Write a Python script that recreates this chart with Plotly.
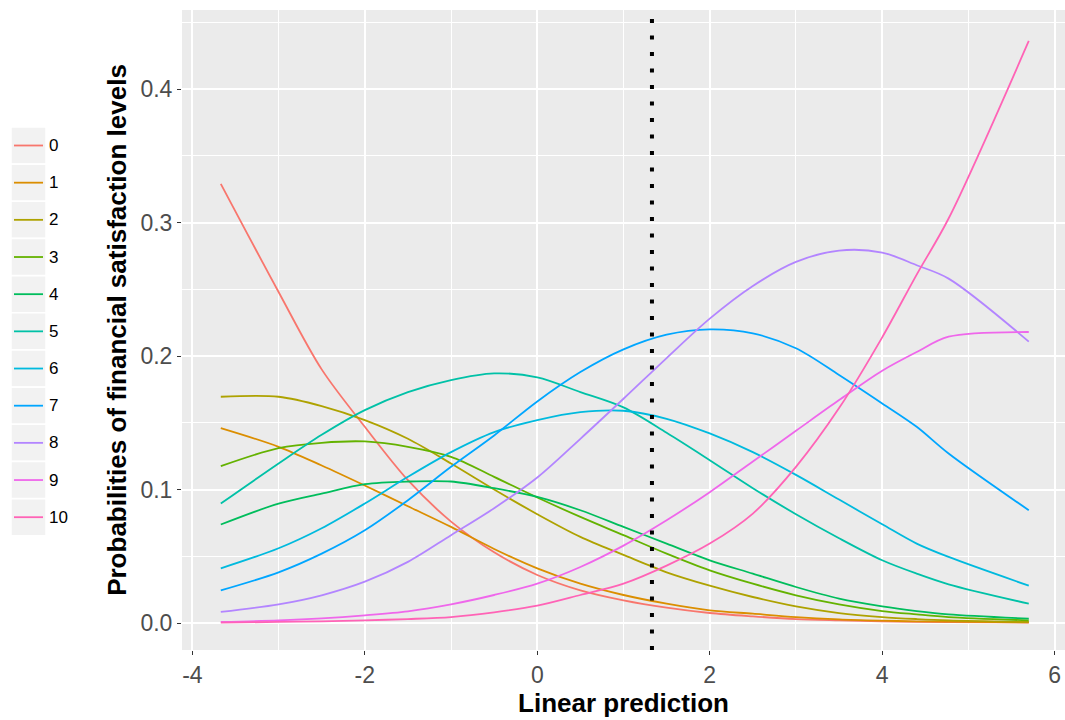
import plotly.graph_objects as go

# ---------------- data ----------------
categories = ["0", "1", "2", "3", "4", "5", "6", "7", "8", "9", "10"]
linear_prediction = [-3.67, -3.0, -2.5, -2.0, -1.5, -1.0, -0.5, 0.0, 0.5, 1.0,
                     1.5, 2.0, 2.5, 3.0, 3.5, 4.0, 4.4, 4.77, 5.7]

p0 = [0.329, 0.248, 0.190, 0.147, 0.107, 0.076, 0.053, 0.036, 0.0245, 0.017,
      0.0115, 0.0075, 0.005, 0.003, 0.002, 0.0012, 0.0009, 0.0007, 0.0004]
p1 = [0.146, 0.132, 0.118, 0.103, 0.0875, 0.072, 0.0555, 0.041, 0.0295, 0.021,
      0.0145, 0.0095, 0.007, 0.0045, 0.0028, 0.0018, 0.0012, 0.001, 0.0005]
p2 = [0.1695, 0.1695, 0.1625, 0.152, 0.138, 0.1195, 0.100, 0.0815, 0.0645, 0.051,
      0.038, 0.028, 0.0195, 0.0125, 0.0075, 0.0045, 0.003, 0.002, 0.0008]
p3 = [0.1175, 0.131, 0.135, 0.136, 0.132, 0.1245, 0.1095, 0.094, 0.0795, 0.0658,
      0.052, 0.0395, 0.0295, 0.0208, 0.014, 0.009, 0.0065, 0.0045, 0.002]
p4 = [0.0738, 0.0895, 0.097, 0.104, 0.106, 0.106, 0.101, 0.0945, 0.0845, 0.072,
      0.0595, 0.047, 0.037, 0.027, 0.0183, 0.0125, 0.009, 0.0065, 0.0033]
p5 = [0.0895, 0.1195, 0.141, 0.1595, 0.173, 0.182, 0.187, 0.184, 0.173, 0.1615,
      0.1425, 0.122, 0.101, 0.0815, 0.0635, 0.047, 0.037, 0.029, 0.0145]
p6 = [0.041, 0.056, 0.071, 0.0895, 0.1095, 0.128, 0.143, 0.152, 0.158, 0.159,
      0.153, 0.142, 0.128, 0.111, 0.0925, 0.074, 0.0595, 0.0495, 0.028]
p7 = [0.0245, 0.038, 0.052, 0.0695, 0.092, 0.117, 0.1405, 0.166, 0.188, 0.205,
      0.216, 0.220, 0.217, 0.2058, 0.1858, 0.1645, 0.147, 0.127, 0.0845]
p8 = [0.0083, 0.014, 0.0208, 0.031, 0.0458, 0.0658, 0.086, 0.109, 0.138, 0.168,
      0.1985, 0.228, 0.2525, 0.2705, 0.279, 0.2775, 0.268, 0.258, 0.2108]
p9 = [0.0008, 0.002, 0.0035, 0.0058, 0.0088, 0.014, 0.021, 0.0295, 0.042, 0.058,
      0.077, 0.098, 0.121, 0.144, 0.167, 0.189, 0.203, 0.2145, 0.218]
p10 = [0.0003, 0.0008, 0.0013, 0.002, 0.003, 0.0045, 0.008, 0.013, 0.021, 0.0295,
       0.043, 0.0595, 0.082, 0.117, 0.161, 0.214, 0.261, 0.303, 0.436]

series = [p0, p1, p2, p3, p4, p5, p6, p7, p8, p9, p10]
cutoff_x = 1.33

x_ticks = [-4, -2, 0, 2, 4, 6]
y_ticks = [0.0, 0.1, 0.2, 0.3, 0.4]
y_tick_labels = ["0.0", "0.1", "0.2", "0.3", "0.4"]

x_title = "Linear prediction"
y_title = "Probabilities of financial satisfaction levels"

# ---------------- style ----------------
colors = ["#F8766D", "#DB8E00", "#AEA200", "#64B200", "#00BD5C", "#00C1A7",
          "#00BADE", "#00A6FF", "#B385FF", "#EF67EB", "#FF63B6"]
FONT = "Liberation Sans, Arial, sans-serif"

W, H = 1065, 720
PANEL_L, PANEL_R, PANEL_T, PANEL_B = 182, 1065, 10, 650   # pixels
ML, MT = PANEL_L, PANEL_T
MR, MB = W - PANEL_R, H - PANEL_B
PW, PH = PANEL_R - PANEL_L, PANEL_B - PANEL_T


def px_x(px):
    return (px - PANEL_L) / PW


def px_y(py):
    return (PANEL_B - py) / PH


fig = go.Figure()
for cat, vals, col in zip(categories, series, colors):
    fig.add_trace(go.Scatter(
        x=linear_prediction, y=vals, mode="lines", name=cat,
        line=dict(color=col, width=1.8, shape="spline", smoothing=0.9),
        showlegend=False, hoverinfo="x+y+name"))

# dotted reference line
fig.add_shape(type="line", x0=cutoff_x, x1=cutoff_x, y0=0, y1=1,
              xref="x", yref="paper",
              line=dict(color="black", width=4, dash="4px,12.5px"))

# ggplot-like legend (keys with grey background), placed left of the axis title
legend_top = 145.5
legend_step = 37.17
for i, (cat, col) in enumerate(zip(categories, colors)):
    cy = legend_top + legend_step * i
    fig.add_shape(type="rect", xref="paper", yref="paper",
                  x0=px_x(11), x1=px_x(46), y0=px_y(cy + 18.5), y1=px_y(cy - 18.5),
                  fillcolor="#F2F2F2", line=dict(color="white", width=1.5),
                  layer="above")
    fig.add_shape(type="line", xref="paper", yref="paper",
                  x0=px_x(14), x1=px_x(43), y0=px_y(cy), y1=px_y(cy),
                  line=dict(color=col, width=1.8), layer="above")
    fig.add_annotation(text=cat, xref="paper", yref="paper",
                       x=px_x(47), y=px_y(cy), xanchor="left", yanchor="middle",
                       showarrow=False, font=dict(family=FONT, size=17, color="black"))

fig.update_layout(
    width=W, height=H,
    margin=dict(l=ML, r=MR, t=MT, b=MB, pad=0, autoexpand=False),
    paper_bgcolor="white", plot_bgcolor="#EBEBEB",
    font=dict(family=FONT, color="black"),
    showlegend=False,
)
fig.update_xaxes(
    range=[-4.12, 6.12], tickvals=x_ticks, ticktext=[str(t) for t in x_ticks],
    showgrid=True, gridcolor="white", gridwidth=1.8, zeroline=False,
    minor=dict(dtick=1, tick0=0, showgrid=True, gridcolor="white", gridwidth=0.9),
    ticks="outside", ticklen=4, tickwidth=1.2, tickcolor="#333333",
    tickfont=dict(family=FONT, size=23, color="#4D4D4D"),
    title=dict(text="<b>" + x_title + "</b>", standoff=5,
               font=dict(family=FONT, size=26, color="black")),
    showline=False, automargin=False,
)
fig.update_yaxes(
    range=[-0.0202, 0.4592], tickvals=y_ticks, ticktext=y_tick_labels,
    showgrid=True, gridcolor="white", gridwidth=1.8, zeroline=False,
    minor=dict(dtick=0.05, tick0=0, showgrid=True, gridcolor="white", gridwidth=0.9),
    ticks="outside", ticklen=4, tickwidth=1.2, tickcolor="#333333",
    tickfont=dict(family=FONT, size=23, color="#4D4D4D"),
    title=dict(text="<b>" + y_title + "</b>", standoff=6,
               font=dict(family=FONT, size=26, color="black")),
    showline=False, automargin=False,
)

# remove the default page margin and scrollbars so the figure fills the window
page_js = (
    "document.documentElement.style.margin='0';"
    "document.documentElement.style.overflow='hidden';"
    "document.body.style.margin='0';"
    "document.body.style.overflow='hidden';"
)
fig.write_html("out.html", post_script=page_js,
               config={"displayModeBar": False})
